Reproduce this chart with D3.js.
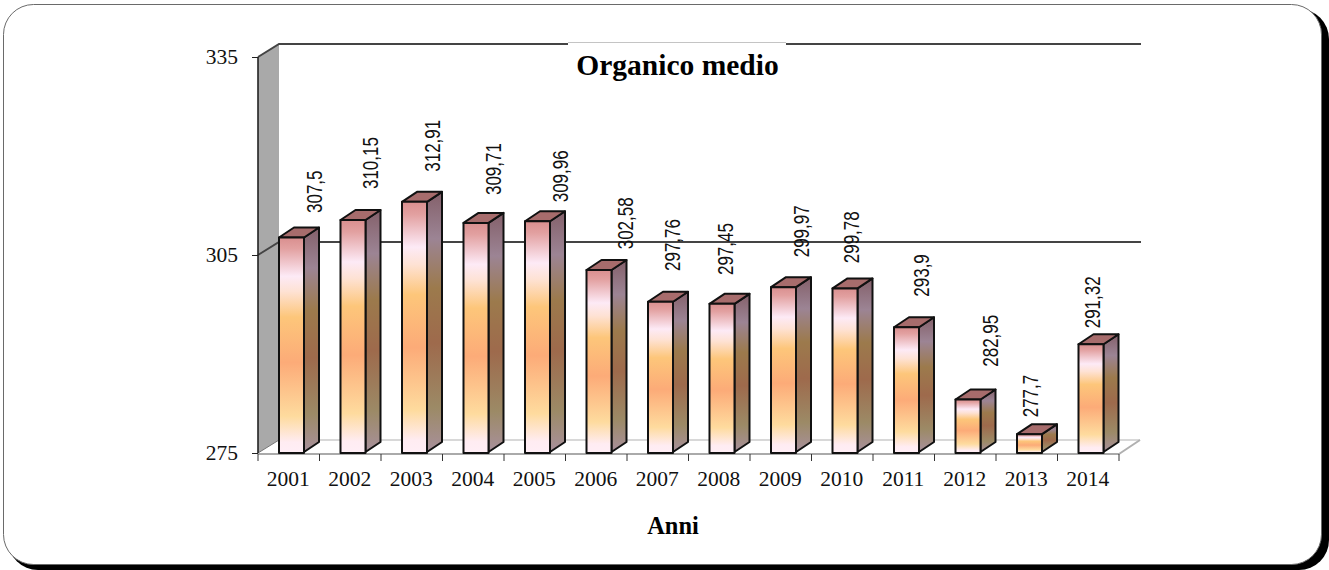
<!DOCTYPE html>
<html><head><meta charset="utf-8">
<script src="https://cdn.jsdelivr.net/npm/d3@7"></script>
<style>html,body{margin:0;padding:0;background:#fff}svg{display:block}</style></head>
<body><div id="c"></div>
<script>
const years=["2001","2002","2003","2004","2005","2006","2007","2008","2009","2010","2011","2012","2013","2014"];
const values=[307.5,310.15,312.91,309.71,309.96,302.58,297.76,297.45,299.97,299.78,293.9,282.95,277.7,291.32];
const valueLabels=["307,5","310,15","312,91","309,71","309,96","302,58","297,76","297,45","299,97","299,78","293,9","282,95","277,7","291,32"];
const yTicks=[275,305,335];
// hand-placed data label offsets, relative to each bar's front-top corner
const labelDX=[43.2,37.7,37.8,37.7,43.2,46.3,31.8,23.3,37.8,26.3,34.8,42.7,21.2,21];
const labelDY=[-25.5,-32,-31.1,-28.9,-20,-21.7,-31.8,-29.8,-30.9,-26.2,-31.6,-33.8,-17.9,-17];
const frontStops=[[0,"#d98f8f"],[.05,"#e2a0a0"],[.18,"#fdeaf6"],[.25,"#fee2d4"],[.37,"#fdc67a"],[.58,"#fcab78"],[.83,"#fedb9e"],[.95,"#ffecf2"],[1,"#ffeef6"]];
const sideStops=[[0,"#84606a"],[.18,"#9c8494"],[.37,"#9c7a4c"],[.58,"#9e6a4c"],[.83,"#9c8a66"],[1,"#a8909c"]];
const W=1329,H=570,dx=21,dy=13,barW=25,dpx=15,dpy=10;
const x=d3.scaleBand().domain(years).range([258,1119]);
const y=d3.scaleLinear().domain([275,335]).range([453,57]);
const svg=d3.select("#c").append("svg").attr("width",W).attr("height",H).style("font-family","'Liberation Serif'");
const defs=svg.append("defs");
const grad=(id,stops)=>{const g=defs.append("linearGradient").attr("id",id).attr("x1",0).attr("y1",0).attr("x2",0).attr("y2",1);
 stops.forEach(s=>g.append("stop").attr("offset",s[0]).attr("stop-color",s[1]));};
grad("gf",frontStops);grad("gs",sideStops);
// frame
svg.append("rect").attr("x",8).attr("y",9).attr("width",1321).attr("height",561).attr("rx",30).attr("fill","#000");
svg.append("rect").attr("x",3.5).attr("y",4.5).attr("width",1318).attr("height",560).attr("rx",30).attr("fill","#fff").attr("stroke","#6a6a6a").attr("stroke-width",1);
// walls
const x0=258,x1=1119,y0=y(275);
svg.append("path").attr("d",d3.line()([[x0,y(335)],[x0+dx,y(335)-dy],[x0+dx,y0-dy],[x0,y0]])+"Z").attr("fill","#a9a9a9");
svg.append("path").attr("d",d3.line()([[x0+dx,y0-dy],[x1+dx,y0-dy]])).attr("fill","none").attr("stroke","#d8d8d8").attr("stroke-width",2);
svg.append("path").attr("d",d3.line()([[x0,y0],[x0+dx,y0-dy]])).attr("fill","none").attr("stroke","#777");
svg.append("path").attr("d",d3.line()([[x1,y0+1],[x1+dx,y0-dy]])).attr("fill","none").attr("stroke","#b0b0b0").attr("stroke-width",2);
svg.append("line").attr("x1",x0).attr("x2",x1).attr("y1",y0+1).attr("y2",y0+1).attr("stroke","#aaa").attr("stroke-width",2);
yTicks.slice(1).forEach(t=>{
 svg.append("path").attr("d",d3.line()([[x0,y(t)],[x0+dx,y(t)-dy],[x1+dx+1,y(t)-dy]])).attr("fill","none").attr("stroke","#444").attr("stroke-width",2);
});
svg.append("line").attr("x1",x0).attr("x2",x0).attr("y1",y(335)).attr("y2",y0).attr("stroke","#222").attr("stroke-width",1.6);
// axes
const gy=svg.append("g").attr("transform",`translate(${x0},0)`).call(d3.axisLeft(y).tickValues(yTicks).tickSize(6).tickPadding(14).tickFormat(d3.format("d")));
gy.select(".domain").remove();
gy.selectAll("text").attr("font-family","'Liberation Serif'").attr("font-size",21.5).attr("fill","#111");
gy.selectAll("line").attr("stroke","#222");
const gx=svg.append("g").attr("transform",`translate(0,${y0+1})`).call(d3.axisBottom(x).tickSize(6).tickPadding(10));
gx.select(".domain").remove();
gx.selectAll("line").remove();
gx.selectAll("text").attr("font-family","'Liberation Serif'").attr("font-size",21.5).attr("fill","#111").attr("dy","0.75em").attr("dx",-0.5);
const tickPos=years.map(d=>x(d)).concat([x1]);
svg.selectAll("line.xt").data(tickPos).join("line").attr("class","xt").attr("x1",d=>d).attr("x2",d=>d).attr("y1",y0+1).attr("y2",y0+8).attr("stroke","#333");
// bars
const bars=svg.selectAll("g.b").data(years.map((yr,i)=>({yr,v:values[i],l:valueLabels[i],i}))).join("g").attr("class","b");
const fx=d=>x(d.yr)+21;
const barTop=d=>y(d.v)-1;
const st={stroke:"#111","stroke-width":2,"stroke-linejoin":"round"};
const app=(s)=>{Object.entries(st).forEach(([k,v])=>s.attr(k,v));return s;};
app(bars.append("path").attr("d",d=>d3.line()([[fx(d)+barW,barTop(d)],[fx(d)+barW+dpx,barTop(d)-dpy],[fx(d)+barW+dpx,y0-dpy-1],[fx(d)+barW,y0-1]])+"Z").attr("fill","url(#gs)"));
app(bars.append("path").attr("d",d=>d3.line()([[fx(d),barTop(d)],[fx(d)+dpx,barTop(d)-dpy],[fx(d)+barW+dpx,barTop(d)-dpy],[fx(d)+barW,barTop(d)]])+"Z").attr("fill","#a76c6c"));
app(bars.append("rect").attr("x",fx).attr("y",barTop).attr("width",barW).attr("height",d=>y0-barTop(d)).attr("fill","url(#gf)"));
bars.append("text").attr("transform",d=>`translate(${fx(d)+labelDX[d.i]},${y(d.v)+labelDY[d.i]}) rotate(-90) scale(0.79,1)`)
 .attr("font-family","'Liberation Sans'").attr("font-size",21.5).attr("fill","#111").text(d=>d.l);
// title
svg.append("rect").attr("x",568).attr("y",40).attr("width",218).attr("height",10).attr("fill","#fff");
svg.append("line").attr("x1",568).attr("x2",786).attr("y1",42.5).attr("y2",42.5).attr("stroke","#c4c4c4");
svg.append("text").attr("x",677.5).attr("y",75).attr("text-anchor","middle").attr("font-weight","bold").attr("font-size",29.5).attr("fill","#000").text("Organico medio");
svg.append("text").attr("x",673).attr("y",534).attr("text-anchor","middle").attr("font-weight","bold").attr("font-size",24.4).attr("fill","#000").text("Anni");
</script></body></html>
